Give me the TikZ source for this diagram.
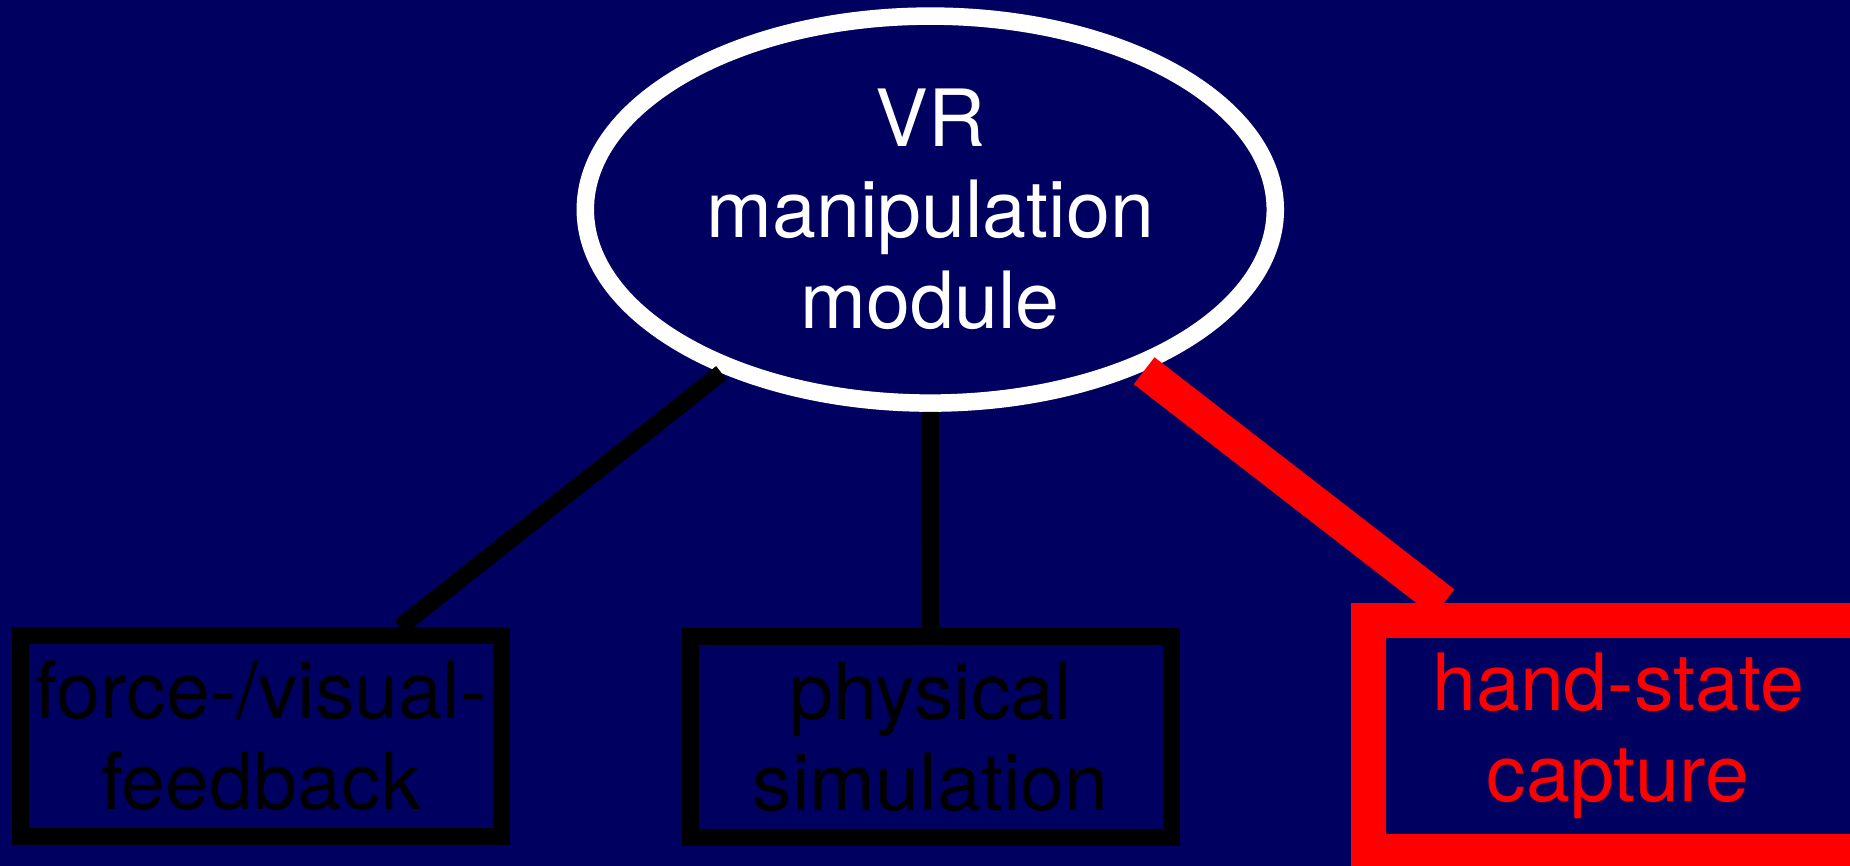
\documentclass[tikz,border=0pt]{standalone}
\usepackage{fontspec}
\setmainfont{TeX Gyre Heros}
\usepackage{tikz}
\usetikzlibrary{shapes.geometric}
\definecolor{slidebg}{RGB}{0,0,96}
\tikzstyle{module} = [ellipse, draw=white, line width=17.5pt, minimum width=690pt, minimum height=387pt, inner sep=0pt, text=white, align=center, font=\fontsize{79}{91}\selectfont]
\tikzstyle{part} = [rectangle, draw=black, line width=17pt, minimum width=481pt, minimum height=201pt, inner sep=0pt, text=black, align=center, font=\fontsize{79}{91}\selectfont]
\tikzstyle{active} = [rectangle, draw=red, line width=34.7pt, minimum width=499pt, minimum height=231pt, inner sep=0pt, text=red, align=center, font=\fontsize{79}{91}\selectfont]
\tikzstyle{link} = [draw=black, line width=17pt]
\tikzstyle{activelink} = [draw=red, line width=34pt]

\begin{document}
\begin{tikzpicture}[x=1pt, y=-1pt]
 \useasboundingbox (0,0) rectangle (1850,866);
 \fill[slidebg] (0,0) rectangle (1850,866);

 \node (vr) [module] at (930.3,209.6) {VR\\manipulation\\module};
 \node (feedback) [part] at (261,736) {force-/visual-\\feedback};
 \node (sim) [part] at (930.6,736.5) {physical\\simulation};
 \node (capture) [active] at (1618,735.7) {hand-state\\capture};

 \draw[link] (vr.218) -- ([xshift=139pt]feedback.north);
 \draw[link] (vr.south) -- (sim.north);
 \draw[activelink] (vr.323) -- ([xshift=-174pt]capture.north);
\end{tikzpicture}
\end{document}
